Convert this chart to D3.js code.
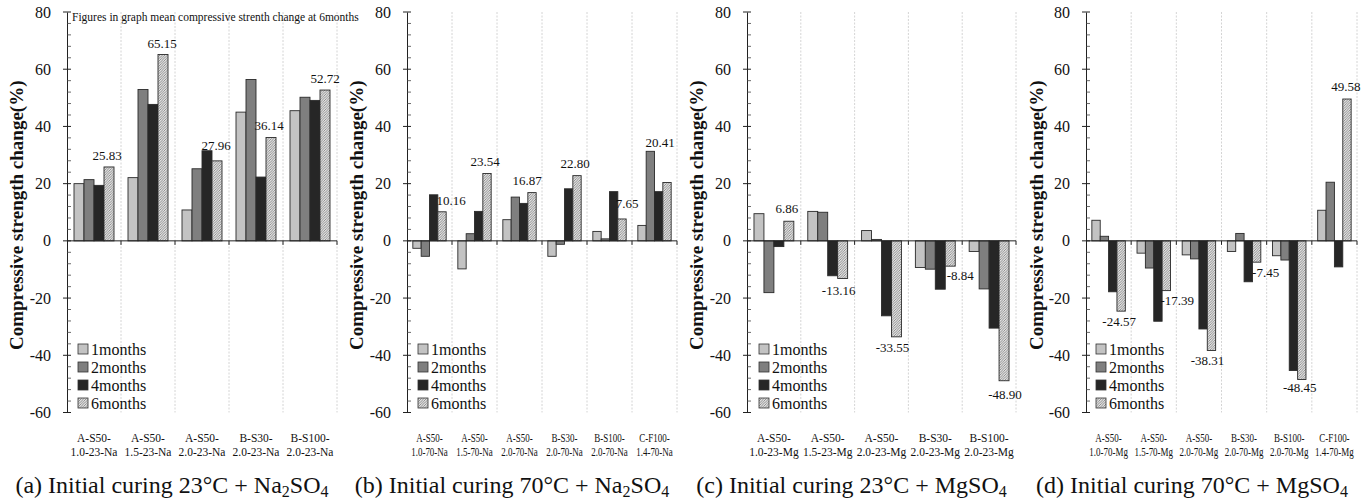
<!DOCTYPE html>
<html><head><meta charset="utf-8">
<script src="https://cdn.jsdelivr.net/npm/d3@7"></script>
<style>body{margin:0;background:#fff} text{font-family:"Liberation Serif","Times New Roman",serif;fill:#111}</style>
</head><body><svg id="c" width="1371" height="502"></svg>
<script>
// ---------------- DATA ----------------
const seriesNames = ["1months", "2months", "4months", "6months"];
const yTicks = [-60, -40, -20, 0, 20, 40, 60, 80];
const noteText = "Figures in graph mean compressive strenth change at 6months";
const yTitle = "Compressive strength change(%)";

const catsA = [["A-S50-", "1.0-23-Na"], ["A-S50-", "1.5-23-Na"], ["A-S50-", "2.0-23-Na"], ["B-S30-", "2.0-23-Na"], ["B-S100-", "2.0-23-Na"]];
const a1 = [20.0, 22.1, 10.8, 45.0, 45.5];
const a2 = [21.4, 52.9, 25.2, 56.4, 50.2];
const a4 = [19.4, 47.7, 31.5, 22.3, 49.1];
const a6 = [25.83, 65.15, 27.96, 36.14, 52.72];

const catsB = [["A-S50-", "1.0-70-Na"], ["A-S50-", "1.5-70-Na"], ["A-S50-", "2.0-70-Na"], ["B-S30-", "2.0-70-Na"], ["B-S100-", "2.0-70-Na"], ["C-F100-", "1.4-70-Na"]];
const b1 = [-2.6, -9.8, 7.4, -5.4, 3.3, 5.4];
const b2 = [-5.4, 2.5, 15.3, -1.2, 0.7, 31.3];
const b4 = [16.1, 10.3, 13.1, 18.2, 17.2, 17.2];
const b6 = [10.16, 23.54, 16.87, 22.80, 7.65, 20.41];

const catsC = [["A-S50-", "1.0-23-Mg"], ["A-S50-", "1.5-23-Mg"], ["A-S50-", "2.0-23-Mg"], ["B-S30-", "2.0-23-Mg"], ["B-S100-", "2.0-23-Mg"]];
const c1 = [9.5, 10.3, 3.6, -9.3, -3.7];
const c2 = [-18.1, 10.0, 0.5, -9.9, -16.8];
const c4 = [-2.0, -12.2, -26.2, -16.9, -30.5];
const c6 = [6.86, -13.16, -33.55, -8.84, -48.90];

const catsD = [["A-S50-", "1.0-70-Mg"], ["A-S50-", "1.5-70-Mg"], ["A-S50-", "2.0-70-Mg"], ["B-S30-", "2.0-70-Mg"], ["B-S100-", "2.0-70-Mg"], ["C-F100-", "1.4-70-Mg"]];
const d1 = [7.2, -4.3, -4.9, -3.7, -5.2, 10.7];
const d2 = [1.6, -9.5, -6.3, 2.6, -6.7, 20.5];
const d4 = [-17.8, -28.1, -30.8, -14.3, -45.3, -9.1];
const d6 = [-24.57, -17.39, -38.31, -7.45, -48.45, 49.58];

const captionA = [["(a) Initial curing 23°C + Na", 0], ["2", 1], ["SO", 0], ["4", 1]];
const captionB = [["(b) Initial curing 70°C + Na", 0], ["2", 1], ["SO", 0], ["4", 1]];
const captionC = [["(c) Initial curing 23°C + MgSO", 0], ["4", 1]];
const captionD = [["(d) Initial curing 70°C + MgSO", 0], ["4", 1]];

// ---------------- LAYOUT / STYLE ----------------
const fills = ["#c3c3c3", "#7f7f7f", "#262626", "url(#hatch)"];
const panels = [
  {x0: 67, x1: 337, cats: catsA, vals: [a1, a2, a4, a6], caption: captionA, titleX: 17, legX: 83, note: true, cond: false,
   lab: [[-2, 7], [-1, 6], [-1, 11], [-2, 7], [0, 7]]},
  {x0: 407, x1: 677, cats: catsB, vals: [b1, b2, b4, b6], caption: captionB, titleX: 357, legX: 423, note: false, cond: true,
   lab: [[9, 7], [-2, 8], [-5, 8], [-2, 8], [5, 11], [-7, 35]]},
  {x0: 747, x1: 1016, cats: catsC, vals: [c1, c2, c4, c6], caption: captionC, titleX: 697, legX: 764, note: false, cond: false,
   lab: [[-2, 8], [-4, 16], [-4, 15], [10, 14], [1, 18]]},
  {x0: 1086, x1: 1357, cats: catsD, vals: [d1, d2, d4, d6], caption: captionD, titleX: 1037, legX: 1101, note: false, cond: true,
   lab: [[-2, 15], [11, 14], [-4, 15], [9, 15], [-2, 13], [-1, 8]]}
];

const svg = d3.select("#c");
const defs = svg.append("defs");
const pat = defs.append("pattern").attr("id", "hatch").attr("patternUnits", "userSpaceOnUse")
  .attr("width", 2.5).attr("height", 2.5);
pat.append("rect").attr("width", 2.5).attr("height", 2.5).attr("fill", "#e2e2e2");
pat.append("path").attr("d", "M-1,1 l2,-2 M0,2.5 l2.5,-2.5 M1.5,3.5 l2,-2").attr("stroke", "#7a7a7a").attr("stroke-width", 0.8);

const y = d3.scaleLinear().domain([-60, 80]).range([412.5, 12]);
const fmt = v => v.toFixed(2);

panels.forEach(p => {
  const g = svg.append("g");
  const n = p.cats.length;
  const x = d3.scaleBand().domain(d3.range(n)).range([p.x0, p.x1]).padding(0);
  const xs = d3.scaleBand().domain(d3.range(4)).range([0, x.bandwidth()]).paddingInner(0).paddingOuter(0.7);

  // vertical dotted gridlines
  g.selectAll(".grid").data(d3.range(1, n + 1)).join("line")
    .attr("x1", i => x(i - 1) + x.bandwidth()).attr("x2", i => x(i - 1) + x.bandwidth())
    .attr("y1", y(80)).attr("y2", y(-60))
    .attr("stroke", "#c9c9c9").attr("stroke-width", 0.8).attr("stroke-dasharray", "2,1.5");

  // bars
  p.vals.forEach((vals, s) => {
    g.selectAll(".bar" + s).data(vals).join("rect")
      .attr("x", (v, i) => x(i) + xs(s)).attr("width", xs.bandwidth())
      .attr("y", v => y(Math.max(0, v))).attr("height", v => Math.abs(y(v) - y(0)))
      .attr("fill", fills[s]).attr("stroke", "#2a2a2a").attr("stroke-width", 0.9);
  });

  // y axis: major & minor ticks
  const yAxis = d3.axisLeft(y).tickValues(yTicks).tickSize(0).tickPadding(16).tickFormat(d => String(d));
  const ga = g.append("g").attr("transform", `translate(${p.x0},0)`).call(yAxis);
  ga.select(".domain").attr("stroke", "#222").attr("stroke-width", 1);
  ga.selectAll("text").style("font-size", "16px").attr("fill", "#111");
  g.selectAll(".maj").data(yTicks).join("line")
    .attr("x1", p.x0 - 4).attr("x2", p.x0 + 4).attr("y1", d => y(d)).attr("y2", d => y(d)).attr("stroke", "#222");
  const minors = d3.range(-60, 81, 4).filter(v => v % 20 !== 0);
  g.selectAll(".min").data(minors).join("line")
    .attr("x1", p.x0).attr("x2", p.x0 + 4).attr("y1", d => y(d)).attr("y2", d => y(d)).attr("stroke", "#444").attr("stroke-width", 0.8);

  // x axis line at zero
  g.append("line").attr("x1", p.x0).attr("x2", p.x1).attr("y1", y(0)).attr("y2", y(0)).attr("stroke", "#222");
  g.selectAll(".xt").data(d3.range(1, n + 1)).join("line")
    .attr("x1", i => x(i - 1) + x.bandwidth()).attr("x2", i => x(i - 1) + x.bandwidth())
    .attr("y1", y(0)).attr("y2", y(0) + 4).attr("stroke", "#222");

  // category labels
  p.cats.forEach((c, i) => {
    c.forEach((t, k) => {
      const tx = g.append("text").attr("x", x(i) + x.bandwidth() / 2).attr("y", 442 + k * 13.5)
        .attr("text-anchor", "middle").style("font-size", "11.5px").text(t);
      if (p.cond) {
        const w = tx.node().getComputedTextLength();
        tx.attr("textLength", w * 0.78).attr("lengthAdjust", "spacingAndGlyphs");
      }
    });
  });

  // 6-month value labels
  p.vals[3].forEach((v, i) => {
    const cx = x(i) + xs(3) + xs.bandwidth() / 2 + p.lab[i][0];
    const yy = v >= 0 ? y(v) - p.lab[i][1] : y(v) + p.lab[i][1];
    g.append("text").attr("x", cx).attr("y", yy).attr("text-anchor", "middle")
      .style("font-size", "13px").text(fmt(v));
  });

  // y title
  g.append("text").attr("transform", `translate(${p.titleX + 6},${y(10) + 3}) rotate(-90)`)
    .attr("text-anchor", "middle").style("font-size", "19px").style("font-weight", "bold").text(yTitle);

  // legend
  seriesNames.forEach((s, k) => {
    const cy = 349 + k * 18;
    g.append("rect").attr("x", p.legX - 5).attr("y", cy - 5).attr("width", 10).attr("height", 10)
      .attr("fill", fills[k]).attr("stroke", "#333").attr("stroke-width", 0.8);
    g.append("text").attr("x", p.legX + 8).attr("y", cy + 5.5).style("font-size", "16px").text(s);
  });

  // note
  if (p.note) {
    g.append("text").attr("x", 72).attr("y", 21).style("font-size", "11.5px").text(noteText);
  }

  // caption
  const cap = g.append("text").attr("x", (p.titleX + p.x1) / 2 - 5).attr("y", 493)
    .attr("text-anchor", "middle").style("font-size", "24px");
  p.caption.forEach(([t, sub]) => {
    const ts = cap.append("tspan").text(t);
    if (sub) ts.style("font-size", "16px").attr("dy", 4);
    else if (cap.selectAll("tspan").size() > 1) ts.attr("dy", -4);
  });
});
</script></body></html>
